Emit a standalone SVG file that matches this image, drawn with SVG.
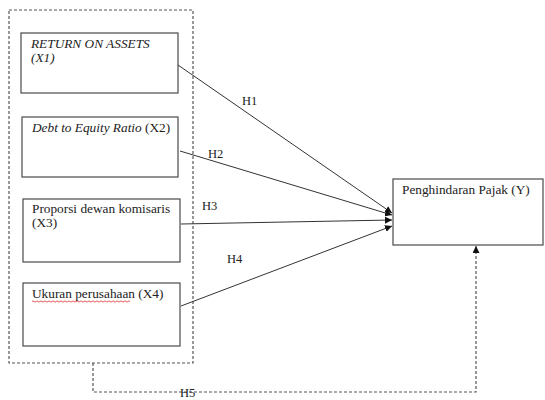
<svg xmlns="http://www.w3.org/2000/svg" width="545" height="400" viewBox="0 0 545 400">
<style>
.box{fill:#fff;stroke:#4a4a4a;stroke-width:1.2}
.t{font-size:13.3px;fill:#222}
.i{font-style:italic}
.h{font-size:12.5px;fill:#222}
.ln{stroke:#333;stroke-width:1;fill:none}
.dash{stroke:#555;stroke-width:1.2;fill:none;stroke-dasharray:3 2}
</style>
<defs>
<marker id="ah" viewBox="0 0 10 10" refX="10" refY="5" markerWidth="7" markerHeight="7" orient="auto" markerUnits="userSpaceOnUse">
<path d="M0,0 L10,5 L0,10 z" fill="#111"/>
</marker>
</defs>
<rect width="545" height="400" fill="#fff"/>
<g font-family="Liberation Serif, DejaVu Serif, serif">
<g id="group-x">
<rect class="dash" x="9" y="10" width="184" height="353"/>
</g>
<g id="x1">
<rect class="box" x="21" y="33" width="157" height="60"/>
<text class="t i" x="31" y="48">RETURN ON ASSETS</text>
<text class="t i" x="31" y="62">(X1)</text>
</g>
<g id="x2">
<rect class="box" x="22" y="117" width="156" height="60"/>
<text class="t" x="32" y="132"><tspan class="i">Debt to Equity Ratio</tspan> (X2)</text>
</g>
<g id="x3">
<rect class="box" x="23" y="199" width="157" height="63"/>
<text class="t" x="32" y="213">Proporsi dewan komisaris</text>
<text class="t" x="32" y="227">(X3)</text>
</g>
<g id="x4">
<rect class="box" x="23" y="283" width="157" height="63"/>
<text class="t" x="32" y="298">Ukuran perusahaan (X4)</text>
<path d="M32,301.5 q1,-1.2 2,0 t2,0 t2,0 t2,0 t2,0 t2,0 t2,0 t2,0 t2,0 t2,0 t2,0 t2,0 t2,0 t2,0 t2,0 t2,0 t2,0 t2,0 t2,0 t2,0 t2,0 t2,0 t2,0 t2,0 t2,0 t2,0 t2,0 t2,0 t2,0 t2,0 t2,0 t2,0 t2,0 t2,0 t2,0 t2,0 t2,0 t2,0 t2,0 t2,0 t2,0 t2,0 t2,0 t2,0 t2,0 t2,0 t2,0 t2,0 t2,0" fill="none" stroke="#e03030" stroke-width="0.8"/>
</g>
<g id="y">
<rect class="box" x="393" y="179" width="150" height="66"/>
<text class="t" x="402" y="194">Penghindaran Pajak (Y)</text>
</g>
<g id="connectors">
<line class="ln" x1="178" y1="65" x2="392" y2="213" marker-end="url(#ah)"/>
<line class="ln" x1="180" y1="151" x2="392" y2="215" marker-end="url(#ah)"/>
<line class="ln" x1="181" y1="224" x2="392" y2="220" marker-end="url(#ah)"/>
<line class="ln" x1="181" y1="306" x2="392" y2="226" marker-end="url(#ah)"/>
<path class="dash" d="M93,363 V392 H476 V246" marker-end="url(#ah)"/>
<text class="h" x="242" y="105">H1</text>
<text class="h" x="208" y="158">H2</text>
<text class="h" x="202" y="210">H3</text>
<text class="h" x="227" y="263">H4</text>
<text class="h" x="180" y="397">H5</text>
</g>
</g>
</svg>
